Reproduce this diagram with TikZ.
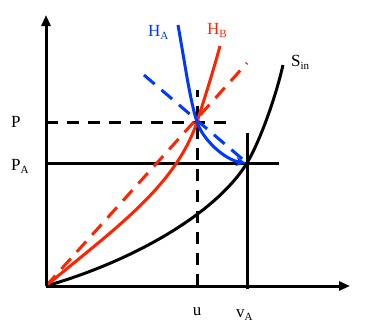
\documentclass[tikz,border=0pt]{standalone}
\usepackage{fontspec}
\setmainfont{Liberation Serif}
\usetikzlibrary{arrows.meta}
\definecolor{blueC}{RGB}{0,56,255}
\definecolor{redC}{RGB}{255,36,0}
\newcommand{\sbs}[1]{\raisebox{-0.45ex}{\fontsize{11}{12}\selectfont #1}}
\begin{document}
\begin{tikzpicture}[x=1pt,y=-1pt,
  axis/.style={line width=3pt,-{Triangle[length=11pt,width=9pt]}},
  thick line/.style={line width=3pt},
  dashline/.style={line width=3pt,dash pattern=on 12pt off 9pt},
  curve/.style={line width=3pt},
  lbl/.style={inner sep=0pt,font=\fontsize{17}{20}\selectfont}]
\useasboundingbox (0,0) rectangle (365,327);
\coordinate (O) at (46,286);
\coordinate (ytop) at (46,15);
\coordinate (xend) at (350,286);
\coordinate (X) at (197,122);
\coordinate (A) at (247,163);
% P and PA lines
\coordinate (Pl) at (46,122);
\coordinate (Pr) at (226,122);
\coordinate (PAl) at (46,163);
\coordinate (PAr) at (279,163);
\coordinate (ut) at (197,90);
\coordinate (ub) at (197,286);
\coordinate (vt) at (247,133);
\coordinate (vb) at (247,289);
\draw[dashline] (Pl) -- (Pr);
\draw[thick line] (PAl) -- (PAr);
\draw[dashline] (ub) -- (ut);
\draw[thick line] (vt) -- (vb);
% red dashed
\coordinate (rd) at (247,63);
\draw[redC,line width=3pt,dash pattern=on 14pt off 9pt] (O) -- (rd);
% blue dashed
\coordinate (bd) at (144,75);
\draw[blueC,line width=3pt,dash pattern=on 14pt off 9pt] (bd) -- (A);
% S_in
\coordinate (Stop) at (283,65);
\draw[curve,black] (O) .. controls (130,262) and (215,215) .. (A)
  .. controls (259,143) and (275,100) .. (Stop);
% H_B
\coordinate (Btop) at (220,46);
\draw[curve,redC] (O) .. controls (110,232) and (175,188) .. (X)
  .. controls (204,100) and (213,72) .. (Btop);
% H_A
\coordinate (Atop) at (178,25);
\coordinate (Aend) at (246,163);
\draw[curve,blueC,-{Stealth[length=10pt,width=9pt]}] (Atop) .. controls (186,70) and (190,100) .. (X)
  .. controls (203,140) and (225,160) .. (Aend);
% axes
\draw[axis] (O) -- (ytop);
\draw[axis] (O) -- (xend);
% labels
\node[lbl,anchor=base west] (lP) at (11,127) {P};
\node[lbl,anchor=base west] (lPA) at (11,170) {P\sbs{A}};
\node[lbl,anchor=base] (lu) at (197,315) {u};
\node[lbl,anchor=base west] (lv) at (236,317) {v\sbs{A}};
\node[lbl,anchor=base west,text=blueC] (lHA) at (148,36) {H\sbs{A}};
\node[lbl,anchor=base west,text=redC] (lHB) at (207,34) {H\sbs{B}};
\node[lbl,anchor=base west] (lS) at (291,66) {S\sbs{in}};
\end{tikzpicture}
\end{document}
